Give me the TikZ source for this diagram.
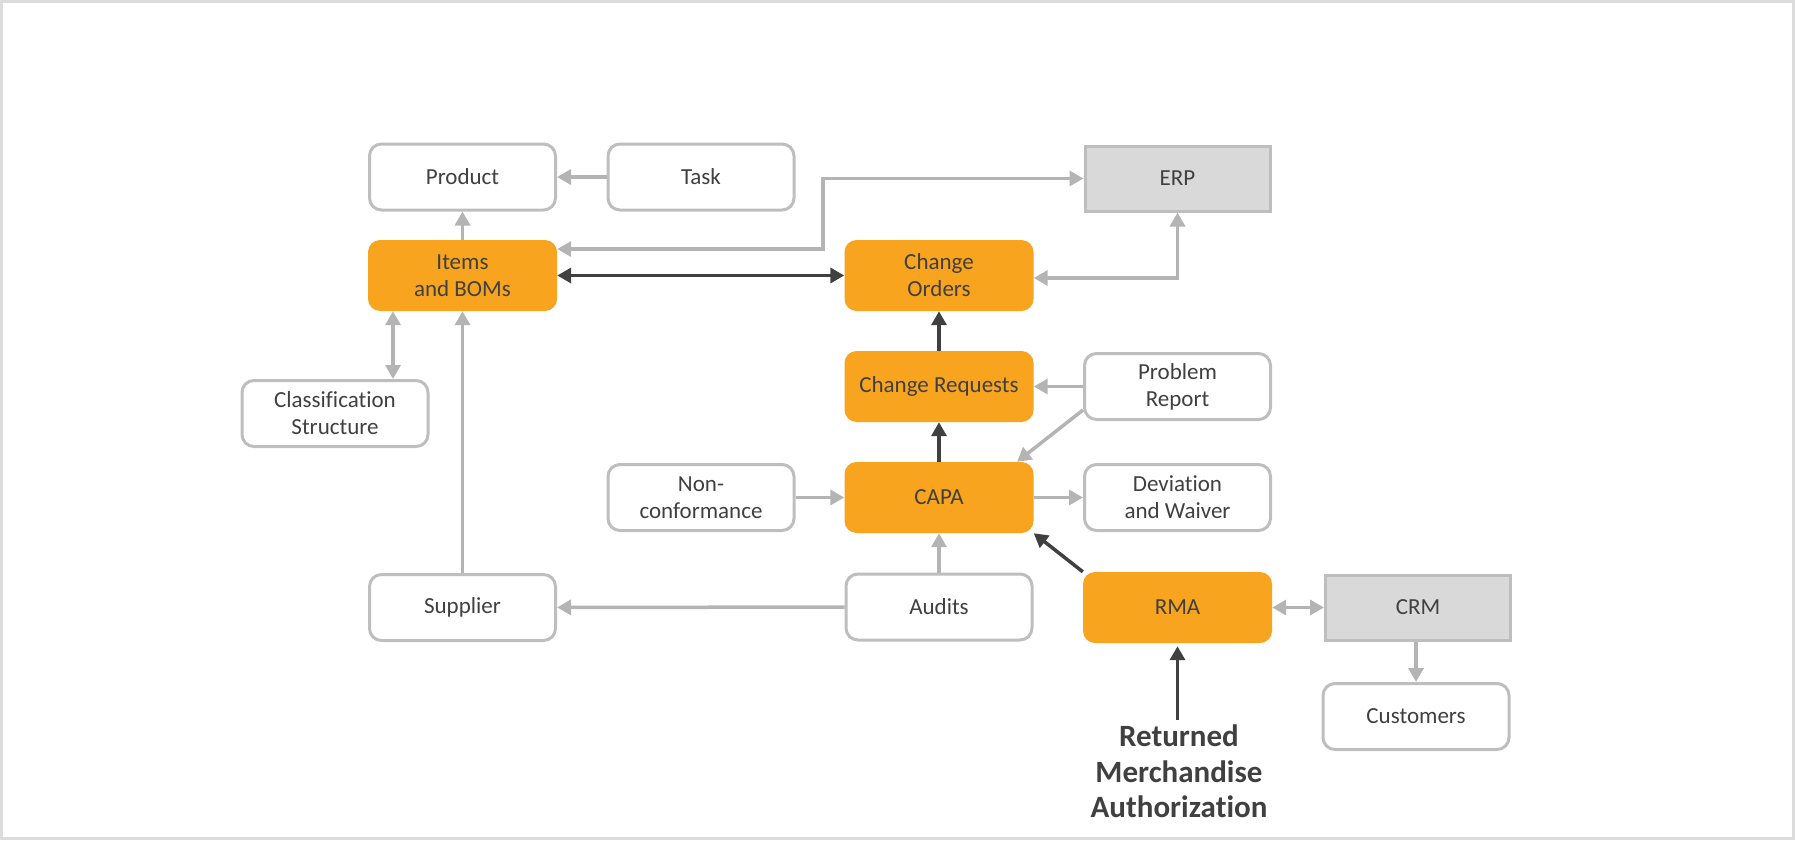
\documentclass[tikz,border=0pt]{standalone}
\usepackage{fontspec}
\setmainfont{Carlito}[Ligatures=NoCommon]
\usetikzlibrary{arrows.meta}
\definecolor{orng}{RGB}{248,164,30}
\definecolor{lgray}{RGB}{180,180,180}
\definecolor{bgray}{RGB}{190,190,190}
\definecolor{dgray}{RGB}{64,64,64}
\definecolor{fgray}{RGB}{217,217,217}
\definecolor{framec}{RGB}{220,220,220}
\tikzset{
  base/.style={inner sep=0pt, align=center, text=dgray, font=\fontsize{23}{27}\selectfont},
  wbox/.style={base, draw=bgray, line width=3pt, rounded corners=12pt, fill=white, minimum width=186pt, minimum height=66pt},
  obox/.style={base, fill=orng, rounded corners=12pt, minimum width=189pt, minimum height=71pt},
  sbox/.style={base, draw=bgray, line width=3pt, fill=fgray, minimum width=185pt, minimum height=65pt},
  gline/.style={draw=lgray, line width=3.5pt},
  dline/.style={draw=dgray, line width=3.5pt},
  garrow/.style={gline, -{Triangle[length=14pt,width=15pt]}},
  gboth/.style={gline, {Triangle[length=14pt,width=15pt]}-{Triangle[length=14pt,width=15pt]}},
  darrow/.style={dline, -{Triangle[length=14pt,width=15pt]}},
  dboth/.style={dline, {Triangle[length=14pt,width=15pt]}-{Triangle[length=14pt,width=15pt]}},
}
\begin{document}
\begin{tikzpicture}[x=1pt,y=-1pt]
\useasboundingbox (0,0) rectangle (1795,840);
\draw[framec, line width=3pt] (1.5,1.5) rectangle (1793.5,838.5);

\node[wbox] (product) at (462.5,177) {Product};
\node[wbox] (task) at (701,177) {Task};
\node[sbox] (erp) at (1177.5,178.5) {ERP};
\node[obox] (items) at (462.5,275.5) {Items\\and BOMs};
\node[obox] (co) at (939,275.5) {Change\\Orders};
\node[wbox] (class) at (335,413.5) {Classification\\Structure};
\node[obox] (cr) at (939,386.5) {Change Requests};
\node[wbox] (pr) at (1177.5,386.5) {Problem\\Report};
\node[wbox] (nc) at (701,497.5) {Non-\\conformance};
\node[obox] (capa) at (939,497.5) {CAPA};
\node[wbox] (dev) at (1177.5,497.5) {Deviation\\and Waiver};
\node[wbox] (supplier) at (462.5,607.5) {Supplier};
\node[wbox] (audits) at (939,607) {Audits};
\node[obox] (rma) at (1177.5,607.5) {RMA};
\node[sbox] (crm) at (1418,607.5) {CRM};
\node[wbox] (cust) at (1416,716.5) {Customers};
\node[base, anchor=north, inner sep=2pt, font=\fontsize{31}{35.5}\selectfont\bfseries] (rmalabel) at (1179,723) {Returned\\Merchandise\\Authorization};

\coordinate (bend) at (823,249);
\coordinate (cx) at (393,0);

\draw[garrow] (task) -- (product);
\draw[garrow] (items) -- (product);
\draw[gboth] (items.east |- bend) -- (bend) |- (erp.west);
\draw[dboth] (items) -- (co);
\draw[gboth] ([yshift=-2.5pt]co.east) -| (erp.south);
\draw[darrow] (cr) -- (co);
\draw[darrow] (capa) -- (cr);
\draw[garrow] (pr) -- (cr);
\draw[garrow] ([yshift=-23.5pt]pr.west) -- ([xshift=78pt]capa.north);
\draw[garrow] (nc) -- (capa);
\draw[garrow] (capa) -- (dev);
\draw[darrow] (rma.north west) -- (capa.south east);
\draw[gboth] (rma) -- (crm);
\draw[garrow] (crm.south -| cust.north) -- (cust.north);
\draw[garrow] (audits) -- (capa);
\draw[garrow] (audits) -- (supplier);
\draw[garrow] (supplier) -- (items);
\draw[gboth] (items.south -| cx) -- (class.north -| cx);
\draw[darrow] ([yshift=3pt]rmalabel.north -| rma.south) -- ([yshift=-3pt]rma.south);
\end{tikzpicture}
\end{document}
